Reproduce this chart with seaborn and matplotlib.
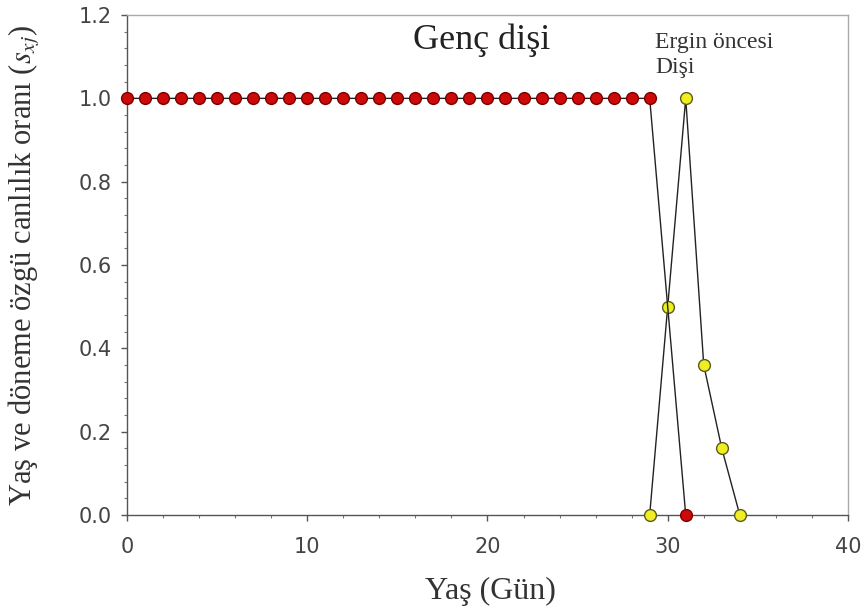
import matplotlib
matplotlib.use("Agg")
import matplotlib.pyplot as plt
import seaborn as sns
import pandas as pd
from matplotlib.ticker import MultipleLocator

# Genç dişi (young female) survival
genc_x = list(range(0, 30)) + [31]
genc_y = [1.0] * 30 + [0.0]

# Ergin öncesi dişi (pre-adult female) survival
ergin_x = [29, 30, 31, 32, 33, 34]
ergin_y = [0.0, 0.5, 1.0, 0.36, 0.16, 0.0]

df_genc = pd.DataFrame({"x": genc_x, "y": genc_y})
df_ergin = pd.DataFrame({"x": ergin_x, "y": ergin_y})

sns.set_style("white")
plt.rcParams["font.family"] = ["DejaVu Sans"]
plt.rcParams["mathtext.fontset"] = "stix"

fig = plt.figure(figsize=(8.67, 6.16), dpi=100)
ax = fig.add_axes([0.1465, 0.164, 0.8315, 0.8116])

sns.lineplot(data=df_ergin, x="x", y="y", ax=ax, color="#222222", linewidth=1.0,
             marker="o", markersize=8.5, markerfacecolor="#eeee22",
             markeredgecolor="#5a5a20", markeredgewidth=1.0, sort=False,
             clip_on=False, zorder=3)
sns.lineplot(data=df_genc, x="x", y="y", ax=ax, color="#222222", linewidth=1.0,
             marker="o", markersize=8.5, markerfacecolor="#cc0a0a",
             markeredgecolor="#7a0000", markeredgewidth=1.0, sort=False,
             clip_on=False, zorder=4)

ax.set_xlim(0, 40)
ax.set_ylim(0, 1.2)
ax.set_xticks(range(0, 41, 10))
ax.xaxis.set_minor_locator(MultipleLocator(2))
ax.set_yticks([0, 0.2, 0.4, 0.6, 0.8, 1.0, 1.2])
ax.set_yticklabels(["0.0", "0.2", "0.4", "0.6", "0.8", "1.0", "1.2"])
ax.yaxis.set_minor_locator(MultipleLocator(0.04))
ax.tick_params(axis="both", which="major", direction="out", length=4, width=1,
               labelsize=15, labelcolor="#444444", color="#555555",
               left=True, bottom=True)
ax.tick_params(axis="y", which="major", pad=7)
ax.tick_params(axis="x", which="major", pad=12)
ax.tick_params(axis="both", which="minor", direction="out", length=2.5, width=0.8,
               color="#777777", left=True, bottom=True)

for s in ax.spines.values():
    s.set_color("#aaaaaa")
    s.set_linewidth(1.0)
ax.spines["left"].set_color("#555555")
ax.spines["bottom"].set_color("#555555")

ax.set_xlabel("Yaş (Gün)", family="Liberation Serif", fontsize=23,
              color="#333333")
ax.xaxis.set_label_coords(0.5035, -0.124)
ax.set_ylabel(r"Yaş ve döneme özgü canlılık oranı ($s_{xj}$)",
              family="Liberation Serif", fontsize=22, color="#333333")
ax.yaxis.set_label_coords(-0.118, 0.5)

ax.text(19.66, 1.14, "Genç dişi", family="Liberation Serif", fontsize=26,
        color="#222222", ha="center", va="center")
ax.text(29.3, 1.159, "Ergin öncesi\nDişi", family="Liberation Serif",
        fontsize=17, color="#333333", ha="left", va="top",
        linespacing=1.25)

fig.savefig("out.png", dpi=100)
